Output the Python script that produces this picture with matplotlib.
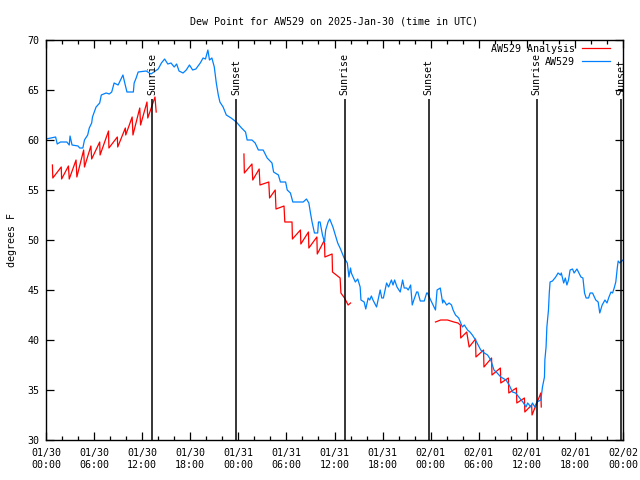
import numpy as np
import matplotlib
matplotlib.use("Agg")
import matplotlib.pyplot as plt

# hours since 01/30 00:00 UTC
obs_hours = [0.0, 1.2, 1.4, 1.8, 2.6, 2.9, 3.0, 3.25, 4.0, 4.2, 4.6, 4.8, 5.2, 5.4, 5.7, 5.8,
             6.25, 6.7, 6.9, 7.5, 7.9, 8.2, 8.5, 9.0, 9.6, 9.8, 10.1, 10.9, 11.0, 11.25, 11.5,
             12.5, 13.1, 14.0, 14.4, 14.8, 15.2, 15.6, 16.0, 16.3, 16.6, 17.1, 17.5, 17.9,
             18.3, 18.7, 19.25, 19.6, 19.9, 20.2, 20.4, 20.7, 21.0, 21.25, 21.5, 21.7, 22.1,
             22.5, 23.1, 23.75, 24.4, 24.9, 25.1, 25.7, 26.1, 26.5, 27.1, 27.6, 28.2, 28.4,
             29.0, 29.25, 29.9, 30.1, 30.5, 30.8, 32.1, 32.5, 32.8, 33.0, 33.2, 33.5, 33.9,
             34.0, 34.2, 34.5, 34.75, 34.9, 35.2, 35.4, 35.8, 36.1, 36.4, 36.75, 37.2, 37.6,
             37.8, 38.0, 38.1, 38.6, 38.9, 39.2, 39.3, 39.7, 39.9, 40.2, 40.4, 40.6, 40.8,
             41.25, 41.7, 41.9, 42.1, 42.5, 42.75, 43.1, 43.3, 43.5, 43.8, 44.2, 44.5, 44.7,
             45.0, 45.2, 45.5, 45.7, 45.9, 46.25, 46.4, 46.7, 47.2, 47.5, 47.6, 48.0, 48.6,
             48.8, 49.2, 49.5, 49.6, 50.0, 50.3, 50.6, 50.8, 51.1, 51.5, 51.95, 52.2, 52.6,
             52.9, 53.2, 53.6, 54.25, 54.7, 55.1, 55.5, 55.9, 56.3, 56.75, 57.4, 57.8, 58.2,
             58.6, 59.0, 59.5, 59.9, 60.1, 60.5, 60.7, 61.0, 61.25, 61.75, 61.95, 62.2, 62.25,
             62.4, 62.5, 62.7, 62.8, 62.9, 63.2, 63.6, 63.9, 64.2, 64.3, 64.6, 64.8, 65.0,
             65.2, 65.4, 65.7, 65.9, 66.25, 66.5, 66.75, 67.0, 67.2, 67.4, 67.7, 67.9, 68.2,
             68.6, 68.9, 69.1, 69.4, 69.75, 70.0, 70.25, 70.5, 70.7, 70.9, 71.1, 71.3, 71.4,
             71.6, 72.0]
obs_dewpt = [60.1, 60.3, 59.6, 59.8, 59.8, 59.5, 60.4, 59.5, 59.4, 59.2, 59.2, 60.0, 60.5, 61.2, 61.7, 62.3,
             63.3, 63.7, 64.5, 64.7, 64.6, 64.8, 65.7, 65.5, 66.5, 65.8, 64.8, 64.8, 65.7, 66.2, 66.8,
             66.9, 66.6, 67.1, 67.7, 68.1, 67.6, 67.7, 67.3, 67.6, 66.9, 66.7, 67.0, 67.5,
             67.0, 67.1, 67.7, 68.2, 68.1, 69.0, 68.0, 68.2, 67.3, 65.7, 64.5, 63.8, 63.3,
             62.5, 62.2, 61.8, 61.2, 60.8, 60.0, 60.0, 59.7, 59.0, 59.0, 58.2, 57.7, 56.8,
             56.5, 55.8, 55.8, 55.0, 54.7, 53.8, 53.8, 54.1, 53.7, 52.7, 51.8, 50.7, 50.7,
             51.8, 51.8, 50.5, 49.8, 51.0, 51.8, 52.1, 51.3, 50.5, 49.7, 49.1, 48.2, 47.7,
             46.3, 47.2, 46.7, 45.8, 46.1, 45.3, 44.0, 43.8, 43.1, 44.2, 44.0, 44.4, 44.0,
             43.3, 45.0, 44.2, 44.2, 45.7, 45.3, 46.0, 45.5, 46.0, 45.3, 44.8, 46.0, 45.2,
             45.2, 45.0, 45.5, 43.5, 44.0, 44.8, 44.8, 43.9, 43.9, 44.7, 44.7, 44.0, 43.0,
             45.0, 45.2, 43.7, 44.0, 43.5, 43.7, 43.5, 43.0, 42.5, 42.2, 41.3, 41.5, 41.0,
             40.8, 40.5, 40.0, 39.0, 38.7, 38.5, 38.0, 37.0, 36.7, 36.3, 36.0, 35.5, 34.8,
             34.7, 34.3, 33.8, 33.3, 33.7, 33.3, 33.7, 33.3, 33.8, 34.0, 35.3, 36.3, 38.0,
             39.3, 41.3, 43.0, 44.7, 45.8, 45.9, 46.3, 46.7, 46.5, 46.7, 45.7, 46.2, 45.5,
             46.0, 47.0, 47.1, 46.7, 47.1, 46.7, 46.3, 46.2, 44.7, 44.2, 44.2, 44.7, 44.7,
             44.0, 43.8, 42.7, 43.5, 44.0, 43.7, 44.3, 44.8, 44.7, 45.2, 45.8, 47.3, 47.9,
             47.7, 48.0]

# analysis series, nan separates the three runs
ana_hours = [0.8, 0.85, 1.9, 1.95, 2.8, 2.9, 3.75, 3.85, 4.7, 4.8, 5.6, 5.7, 6.7, 6.75,
             7.8, 7.85, 8.9, 8.95, 9.9, 9.95, 10.75, 10.85, 11.7, 11.8, 12.6, 12.7, 13.6, 13.75,
             np.nan,
             24.7, 24.75, 25.7, 25.8, 26.6, 26.7, 27.8, 27.9, 28.6, 28.7, 29.7, 29.8, 30.7,
             30.75, 31.75, 31.8, 32.75, 32.8, 33.8, 33.85, 34.75, 34.8, 35.7, 35.75, 36.7,
             36.8, 37.25, 37.7, 38.0,
             np.nan,
             48.6, 49.25, 50.1, 50.9, 51.4, 51.7, 51.75, 52.5, 52.8, 53.6, 53.65, 54.6, 54.65,
             55.6, 55.65, 56.7, 56.75, 57.7, 57.75, 58.7, 58.75, 59.7, 59.75, 60.6, 60.65,
             61.75, 61.8]
ana_dewpt = [57.5, 56.2, 57.3, 56.1, 57.4, 56.1, 58.0, 56.3, 59.0, 57.3, 59.4, 58.1, 59.8, 58.5,
             60.9, 59.2, 60.3, 59.3, 61.2, 60.5, 62.3, 60.5, 63.2, 61.5, 63.8, 62.2, 64.3, 62.8,
             np.nan,
             58.6, 56.7, 57.6, 56.0, 57.1, 55.5, 55.8, 54.2, 55.0, 53.1, 53.4, 51.8, 51.8,
             50.1, 51.0, 49.6, 50.8, 49.2, 50.3, 48.6, 50.0, 48.3, 48.6, 46.8, 46.2,
             44.7, 44.2, 43.5, 43.7,
             np.nan,
             41.8, 42.0, 42.0, 41.8, 41.7, 41.5, 40.2, 40.8, 39.3, 40.1, 38.3, 39.0, 37.3,
             38.2, 36.5, 37.2, 35.7, 36.2, 34.7, 35.2, 33.7, 34.2, 32.8, 33.5, 32.5,
             34.7, 33.3]

sun_hours = [13.25, 23.75, 37.25, 47.75, 61.25, 71.75]
sun_names = ["Sunrise", "Sunset", "Sunrise", "Sunset", "Sunrise", "Sunset"]

tick_hours = list(range(0, 73, 6))
tick_labels = ["01/30\n00:00", "01/30\n06:00", "01/30\n12:00", "01/30\n18:00",
               "01/31\n00:00", "01/31\n06:00", "01/31\n12:00", "01/31\n18:00",
               "02/01\n00:00", "02/01\n06:00", "02/01\n12:00", "02/01\n18:00",
               "02/02\n00:00"]

plt.rcParams["font.family"] = ["DejaVu Sans Mono"]
plt.rcParams["font.size"] = 7.2

fig = plt.figure(figsize=(6.4, 4.8), dpi=100)
ax = fig.add_axes([46 / 640, 40 / 480, 577 / 640, 400 / 480])

ax.plot(ana_hours, ana_dewpt, color="#ff0000", lw=0.9, label="AW529 Analysis")
ax.plot(obs_hours, obs_dewpt, color="#0080ff", lw=0.9, label="AW529")

for h, name in zip(sun_hours, sun_names):
    ax.vlines(h, 30, 64.1, color="black", lw=1.1)
    ax.text(h, 64.5, name, rotation=90, ha="center", va="bottom", fontsize=7.2)

ax.set_xlim(0, 72)
ax.set_ylim(30, 70)
ax.set_xticks(tick_hours)
ax.set_xticklabels(tick_labels, linespacing=1.3)
ax.set_xticks(range(0, 73, 2), minor=True)
ax.set_yticks(range(30, 71, 5))
ax.tick_params(which="both", direction="in", top=True, right=True, width=0.9)
ax.tick_params(which="major", length=5.5)
ax.tick_params(which="minor", length=2.8)
ax.tick_params(axis="x", pad=5.5)
ax.tick_params(axis="y", pad=4.5)
for s in ax.spines.values():
    s.set_linewidth(1.0)

ax.set_ylabel("degrees F", labelpad=8)
ax.set_title("Dew Point for AW529 on 2025-Jan-30 (time in UTC)", pad=11, fontsize=7.2)

ax.legend(loc="upper right", bbox_to_anchor=(1 - 13 / 577, 1 - 4 / 400), frameon=False,
          markerfirst=False, borderpad=0, borderaxespad=0, handlelength=2.8,
          handletextpad=0.7, labelspacing=0.3, fontsize=7.2)

fig.savefig("out.png", dpi=100)
